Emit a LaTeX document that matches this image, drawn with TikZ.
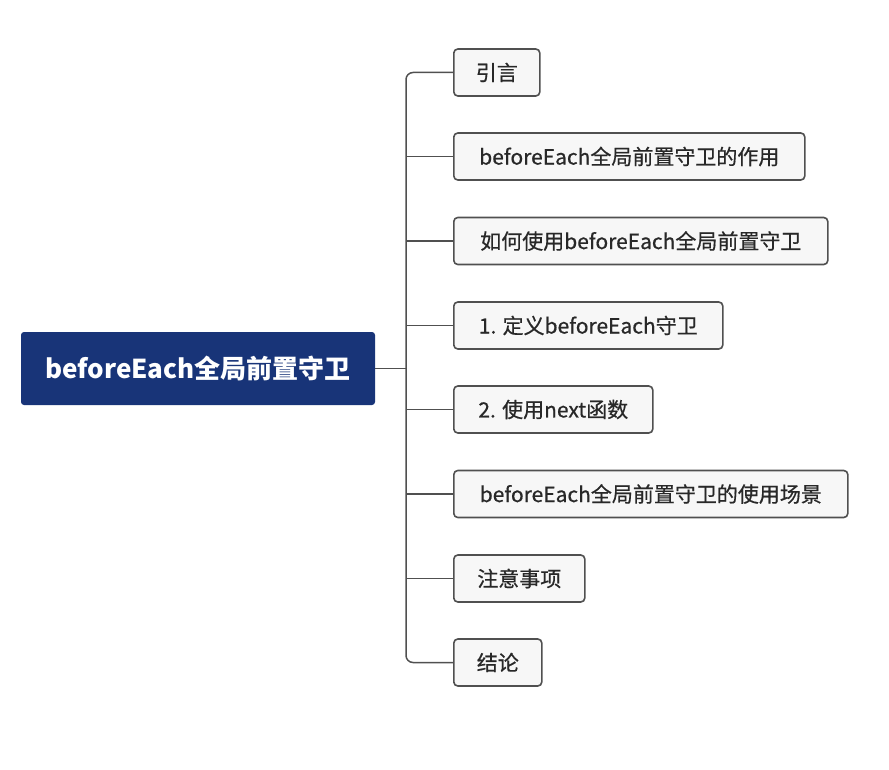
\documentclass[tikz,border=0pt]{standalone}
\usepackage{fontspec}
\setmainfont{Noto Sans CJK SC}
\newfontfamily\leaffont[FakeBold=0.6]{Noto Sans CJK SC}
\definecolor{rootblue}{RGB}{24,52,120}
\definecolor{leafbg}{RGB}{247,247,247}
\definecolor{edge}{RGB}{80,80,80}
\definecolor{leaftext}{RGB}{40,40,40}
\begin{document}
\begin{tikzpicture}[x=1pt,y=-1pt,
  rootbox/.style={draw=none,fill=rootblue,rounded corners=3pt,text=white,font=\fontsize{26}{30}\selectfont\bfseries,minimum width=354pt,minimum height=73pt,inner sep=0pt},
  leafbox/.style={draw=edge,line width=1.6pt,fill=leafbg,rounded corners=4pt,text=leaftext,font=\leaffont\fontsize{21}{25}\selectfont,minimum height=47pt,inner sep=0pt,anchor=west},
  conn/.style={draw=edge,line width=1.5pt}]
\useasboundingbox (0,0) rectangle (889,770);
\node[rootbox] (root) at (198,368.5) {beforeEach全局前置守卫};
\node[leafbox,minimum width=86pt] (c1) at (453,72.5) {引言};
\node[leafbox,minimum width=351pt] (c2) at (453,156.5) {beforeEach全局前置守卫的作用};
\node[leafbox,minimum width=374pt] (c3) at (453,241) {如何使用beforeEach全局前置守卫};
\node[leafbox,minimum width=269pt] (c4) at (453,325.5) {1. 定义beforeEach守卫};
\node[leafbox,minimum width=199pt] (c5) at (453,409.5) {2. 使用next函数};
\node[leafbox,minimum width=394pt] (c6) at (453,494) {beforeEach全局前置守卫的使用场景};
\node[leafbox,minimum width=131pt] (c7) at (453,578.5) {注意事项};
\node[leafbox,minimum width=88pt] (c8) at (453,662.5) {结论};
\coordinate (j) at (406,368.5);
\draw[conn] (root.east) -- (j);
\draw[conn,rounded corners=7pt] (c1.west) -| (j) |- (c8.west);
\foreach \c in {c2,c3,c4,c5,c6,c7}{
  \draw[conn] (j |- \c.west) -- (\c.west);
}
\end{tikzpicture}
\end{document}
